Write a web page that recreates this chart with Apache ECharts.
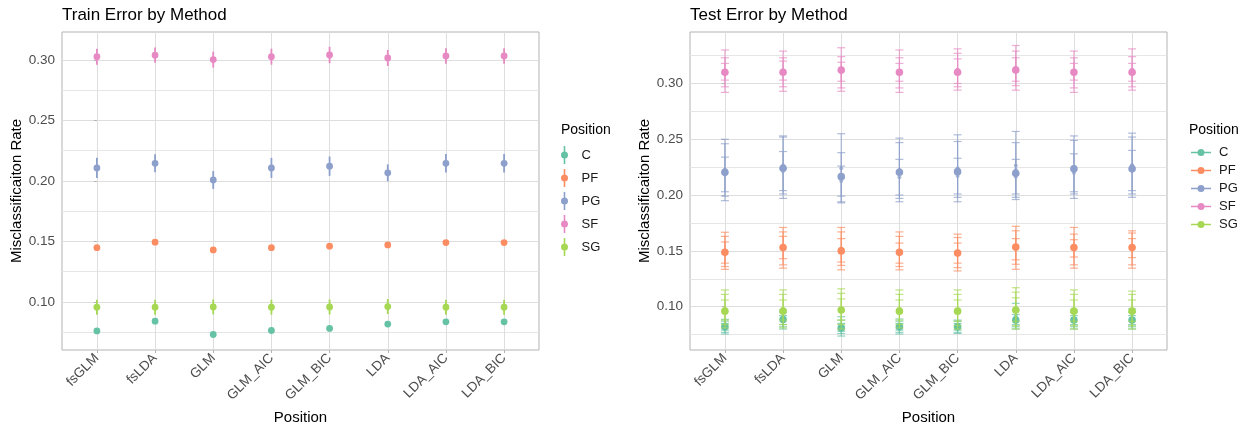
<!DOCTYPE html>
<html>
<head>
    <meta charset="UTF-8">
    <script src="https://cdn.jsdelivr.net/npm/echarts@6/dist/echarts.min.js"></script>
    <title>Train / Test Error by Method</title>
    <style>
        body { margin: 0; background: #fff; }
        #main { width: 1249px; height: 431px; }
    </style>
</head>
<body>
<div id="main"></div>
<script>
    // categories
    var methods = ['fsGLM', 'fsLDA', 'GLM', 'GLM_AIC', 'GLM_BIC', 'LDA', 'LDA_AIC', 'LDA_BIC'];
    var positions = ['C', 'PF', 'PG', 'SF', 'SG'];
    var colors = ['#66C2A5', '#FC8D62', '#8DA0CB', '#E78AC3', '#A6D854'];

    // tick labels
    var majorTicks = [0.10, 0.15, 0.20, 0.25, 0.30];
    var minorTicksTrain = [0.075, 0.125, 0.175, 0.225, 0.275];
    var minorTicksTest = [0.075, 0.125, 0.175, 0.225, 0.275, 0.325];

    // train error: mean and half-width of the range, per method
    var trainC = [0.0761, 0.0841, 0.0731, 0.0764, 0.0781, 0.0817, 0.0836, 0.0836];
    var trainCse = [0.001, 0.001, 0.001, 0.001, 0.001, 0.001, 0.001, 0.001];
    var trainPF = [0.1449, 0.1494, 0.1430, 0.1449, 0.1461, 0.1471, 0.1491, 0.1491];
    var trainPFse = [0.0015, 0.0015, 0.0015, 0.0015, 0.0015, 0.0015, 0.0015, 0.0015];
    var trainPG = [0.2108, 0.2146, 0.2008, 0.2108, 0.2122, 0.2067, 0.2146, 0.2146];
    var trainPGse = [0.0083, 0.0074, 0.0074, 0.0083, 0.0080, 0.0070, 0.0076, 0.0076];
    var trainSF = [0.3027, 0.3039, 0.3003, 0.3027, 0.3041, 0.3017, 0.3033, 0.3033];
    var trainSFse = [0.0066, 0.0063, 0.0066, 0.0066, 0.0068, 0.0066, 0.0064, 0.0064];
    var trainSG = [0.0957, 0.0957, 0.0959, 0.0957, 0.0959, 0.0962, 0.0957, 0.0957];
    var trainSGse = [0.0062, 0.0062, 0.0062, 0.0062, 0.0062, 0.0062, 0.0062, 0.0062];

    // test error: overall mean, and three overlaid error bars [lo1,hi1,lo2,hi2,lo3,hi3]
    var testC = [0.082, 0.0885, 0.081, 0.082, 0.082, 0.088, 0.088, 0.088];
    var testCbars = [
        [0.0755, 0.0887, 0.077, 0.087, 0.079, 0.085],
        [0.080, 0.097, 0.082, 0.095, 0.084, 0.092],
        [0.0737, 0.091, 0.076, 0.088, 0.078, 0.085],
        [0.0755, 0.089, 0.077, 0.087, 0.079, 0.085],
        [0.076, 0.088, 0.077, 0.087, 0.079, 0.085],
        [0.080, 0.103, 0.082, 0.097, 0.084, 0.093],
        [0.080, 0.097, 0.082, 0.095, 0.084, 0.092],
        [0.080, 0.098, 0.082, 0.095, 0.084, 0.092]
    ];
    var testPF = [0.1487, 0.153, 0.150, 0.1487, 0.148, 0.1535, 0.153, 0.153];
    var testPFbars = [
        [0.1335, 0.1667, 0.136, 0.163, 0.139, 0.158],
        [0.1345, 0.171, 0.1375, 0.167, 0.143, 0.163],
        [0.133, 0.171, 0.137, 0.167, 0.140, 0.161],
        [0.133, 0.167, 0.136, 0.163, 0.139, 0.157],
        [0.132, 0.165, 0.135, 0.162, 0.139, 0.157],
        [0.1335, 0.172, 0.138, 0.168, 0.142, 0.161],
        [0.1345, 0.171, 0.1375, 0.165, 0.1445, 0.160],
        [0.1345, 0.168, 0.1375, 0.166, 0.144, 0.161]
    ];
    var testPG = [0.2205, 0.224, 0.2165, 0.2205, 0.221, 0.2195, 0.2235, 0.2235];
    var testPGbars = [
        [0.195, 0.250, 0.199, 0.246, 0.203, 0.234],
        [0.197, 0.253, 0.201, 0.252, 0.204, 0.239],
        [0.193, 0.255, 0.194, 0.238, 0.199, 0.226],
        [0.194, 0.251, 0.197, 0.247, 0.200, 0.232],
        [0.194, 0.254, 0.198, 0.248, 0.201, 0.233],
        [0.196, 0.257, 0.198, 0.247, 0.201, 0.232],
        [0.197, 0.253, 0.201, 0.249, 0.203, 0.237],
        [0.198, 0.2555, 0.201, 0.252, 0.204, 0.240]
    ];
    var testSF = [0.310, 0.310, 0.312, 0.310, 0.310, 0.312, 0.310, 0.310];
    var testSFbars = [
        [0.292, 0.330, 0.297, 0.323, 0.303, 0.318],
        [0.293, 0.329, 0.297, 0.323, 0.303, 0.320],
        [0.293, 0.332, 0.296, 0.324, 0.302, 0.319],
        [0.292, 0.330, 0.296, 0.323, 0.302, 0.318],
        [0.294, 0.331, 0.297, 0.327, 0.300, 0.322],
        [0.294, 0.334, 0.298, 0.329, 0.302, 0.323],
        [0.292, 0.329, 0.296, 0.323, 0.303, 0.318],
        [0.294, 0.331, 0.297, 0.324, 0.302, 0.318]
    ];
    var testSG = [0.096, 0.096, 0.097, 0.096, 0.096, 0.097, 0.096, 0.096];
    var testSGbars = [
        [0.081, 0.115, 0.084, 0.111, 0.088, 0.106],
        [0.081, 0.115, 0.084, 0.111, 0.088, 0.106],
        [0.080, 0.116, 0.084, 0.112, 0.088, 0.107],
        [0.081, 0.115, 0.084, 0.111, 0.088, 0.106],
        [0.080, 0.115, 0.083, 0.111, 0.087, 0.106],
        [0.080, 0.117, 0.083, 0.113, 0.087, 0.108],
        [0.080, 0.115, 0.083, 0.111, 0.087, 0.106],
        [0.080, 0.114, 0.083, 0.111, 0.087, 0.106]
    ];

    var trainMeans = [trainC, trainPF, trainPG, trainSF, trainSG];
    var trainSes = [trainCse, trainPFse, trainPGse, trainSFse, trainSGse];
    var testMeans = [testC, testPF, testPG, testSF, testSG];
    var testBars = [testCbars, testPFbars, testPGbars, testSFbars, testSGbars];

    var font = 'Liberation Sans, Arial, sans-serif';
    var methodIdx = methods.map(function (m, i) { return i; });

    function xAxisFor(gridIndex) {
        return {
            gridIndex: gridIndex,
            type: 'value',
            min: -0.6,
            max: 7.6,
            splitNumber: 8,
            minInterval: 1,
            maxInterval: 1,
            axisLine: {show: false},
            axisTick: {show: true, length: 3, lineStyle: {color: '#B3B3B3'}, customValues: methodIdx},
            axisLabel: {
                customValues: methodIdx,
                rotate: 45,
                margin: 6,
                fontSize: 13.5,
                fontFamily: font,
                color: '#4D4D4D',
                formatter: function (v) { return methods[Math.round(v)]; }
            },
            splitLine: {show: true, lineStyle: {color: '#DEDEDE', width: 1}},
            name: 'Position',
            nameLocation: 'middle',
            nameGap: 60,
            nameMoveOverlap: false,
            nameTextStyle: {fontSize: 15, fontFamily: font, color: '#000'}
        };
    }

    function yMajor(gridIndex, lo, hi) {
        return {
            gridIndex: gridIndex,
            type: 'value',
            min: lo,
            max: hi,
            splitNumber: 5,
            minInterval: 0.05,
            maxInterval: 0.05,
            axisLine: {show: false},
            axisTick: {show: true, length: 3, lineStyle: {color: '#B3B3B3'}, customValues: majorTicks},
            axisLabel: {
                customValues: majorTicks,
                margin: 7,
                fontSize: 13.5,
                fontFamily: font,
                color: '#4D4D4D',
                formatter: function (v) { return v.toFixed(2); }
            },
            splitLine: {show: true, lineStyle: {color: '#DEDEDE', width: 1}},
            name: 'Misclassificaiton Rate',
            nameLocation: 'middle',
            nameGap: 38,
            nameMoveOverlap: false,
            nameTextStyle: {fontSize: 15, fontFamily: font, color: '#000'}
        };
    }

    function yMinor(gridIndex, lo, hi, ticks) {
        return {
            gridIndex: gridIndex,
            type: 'value',
            position: 'left',
            min: lo,
            max: hi,
            splitNumber: 10,
            minInterval: 0.025,
            maxInterval: 0.025,
            axisLine: {show: false},
            axisTick: {show: false, customValues: ticks},
            axisLabel: {show: false, customValues: ticks},
            splitLine: {show: true, lineStyle: {color: '#E6E6E6', width: 1}}
        };
    }

    function renderTrain(params, api) {
        var x = api.value(0);
        var c = api.visual('color');
        var pm = api.coord([x, api.value(1)]);
        var plo = api.coord([x, api.value(2)]);
        var phi = api.coord([x, api.value(3)]);
        return {
            type: 'group',
            children: [
                {type: 'line', shape: {x1: plo[0], y1: plo[1], x2: phi[0], y2: phi[1]}, style: {stroke: c, lineWidth: 1.8}},
                {type: 'circle', shape: {cx: pm[0], cy: pm[1], r: 3.4}, style: {fill: c}}
            ]
        };
    }

    function renderTest(params, api) {
        var x = api.value(0);
        var c = api.visual('color');
        var kids = [];
        for (var k = 0; k < 3; k++) {
            var lo = api.coord([x, api.value(2 + 2 * k)]);
            var hi = api.coord([x, api.value(3 + 2 * k)]);
            var st = {stroke: c, lineWidth: 1.2, opacity: 0.7};
            kids.push({type: 'line', shape: {x1: lo[0], y1: lo[1], x2: hi[0], y2: hi[1]}, style: st});
            kids.push({type: 'line', shape: {x1: lo[0] - 4, y1: lo[1], x2: lo[0] + 4, y2: lo[1]}, style: st});
            kids.push({type: 'line', shape: {x1: hi[0] - 4, y1: hi[1], x2: hi[0] + 4, y2: hi[1]}, style: st});
            kids.push({type: 'circle', shape: {cx: lo[0], cy: (lo[1] + hi[1]) / 2, r: 2}, style: {fill: c, opacity: 0.7}});
        }
        var pm = api.coord([x, api.value(1)]);
        kids.push({type: 'circle', shape: {cx: pm[0], cy: pm[1], r: 3.8}, style: {fill: c}});
        return {type: 'group', children: kids};
    }

    var series = [];
    positions.forEach(function (p, j) {
        series.push({
            name: p,
            type: 'custom',
            xAxisIndex: 0,
            yAxisIndex: 0,
            silent: true,
            itemStyle: {color: colors[j]},
            renderItem: renderTrain,
            encode: {x: 0, y: [1, 2, 3]},
            data: methods.map(function (m, i) {
                var mu = trainMeans[j][i], se = trainSes[j][i];
                return [i, mu, mu - se, mu + se];
            })
        });
    });
    positions.forEach(function (p, j) {
        series.push({
            name: p,
            type: 'custom',
            xAxisIndex: 1,
            yAxisIndex: 2,
            silent: true,
            itemStyle: {color: colors[j]},
            renderItem: renderTest,
            encode: {x: 0, y: [1, 2, 3, 4, 5, 6, 7]},
            data: methods.map(function (m, i) {
                return [i, testMeans[j][i]].concat(testBars[j][i]);
            })
        });
    });

    var titleStyle = {fontSize: 17, fontWeight: 'normal', fontFamily: font, color: '#000'};
    var legendTitleStyle = {fontSize: 14, fontWeight: 'normal', fontFamily: font, color: '#000'};
    var legendText = {fontSize: 13, fontFamily: font, color: '#1A1A1A'};

    var chart = echarts.init(document.getElementById('main'));
    chart.setOption({
        animation: false,
        backgroundColor: '#fff',
        title: [
            {text: 'Train Error by Method', left: 62, top: 7, padding: 0, textStyle: titleStyle},
            {text: 'Test Error by Method', left: 690, top: 7, padding: 0, textStyle: titleStyle},
            {text: 'Position', left: 561, top: 123, padding: 0, textStyle: legendTitleStyle},
            {text: 'Position', left: 1189, top: 123, padding: 0, textStyle: legendTitleStyle}
        ],
        legend: [
            {
                orient: 'vertical',
                left: 561,
                top: 146,
                padding: 0,
                itemWidth: 24,
                itemHeight: 18,
                itemGap: 5,
                selectedMode: false,
                icon: 'path://M4.2,0h1.6v18h-1.6z M1.5,9a3.5,3.5 0 1,1 7,0a3.5,3.5 0 1,1 -7,0z',
                textStyle: legendText,
                data: positions
            },
            {
                orient: 'vertical',
                left: 1191,
                top: 146,
                padding: 0,
                itemWidth: 20,
                itemHeight: 18,
                itemGap: 5,
                selectedMode: false,
                icon: 'path://M0,3.2h20v1.6h-20z M6.5,4a3.5,3.5 0 1,1 7,0a3.5,3.5 0 1,1 -7,0z',
                textStyle: Object.assign({padding: [0, 0, 0, 3]}, legendText),
                data: positions
            }
        ],
        grid: [
            {left: 62, top: 32, width: 477, height: 318, show: true, borderColor: '#B3B3B3', borderWidth: 1, backgroundColor: '#fff'},
            {left: 690, top: 32, width: 477, height: 318, show: true, borderColor: '#B3B3B3', borderWidth: 1, backgroundColor: '#fff'}
        ],
        xAxis: [xAxisFor(0), xAxisFor(1)],
        yAxis: [
            yMajor(0, 0.0603, 0.3231),
            yMinor(0, 0.0603, 0.3231, minorTicksTrain),
            yMajor(1, 0.0612, 0.3461),
            yMinor(1, 0.0612, 0.3461, minorTicksTest)
        ],
        series: series
    });
</script>
</body>
</html>
